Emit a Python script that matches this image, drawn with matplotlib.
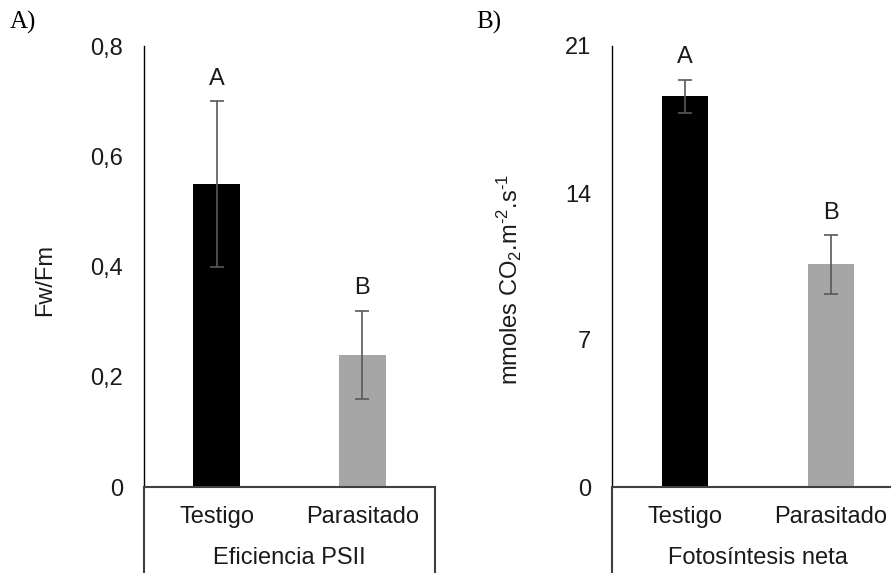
import matplotlib
matplotlib.use("Agg")
import matplotlib.pyplot as plt
from matplotlib import transforms

plt.rcParams['font.family'] = ['Liberation Sans', 'DejaVu Sans']
plt.rcParams['mathtext.fontset'] = 'custom'
plt.rcParams['mathtext.rm'] = 'Liberation Sans'
plt.rcParams['mathtext.it'] = 'Liberation Sans'

categories = ['Testigo', 'Parasitado']
bar_colors = ['#000000', '#a6a6a6']
groups = ['Eficiencia PSII', 'Fotosíntesis neta']

# panel A: PSII efficiency
fvfm_mean = [0.55, 0.24]
fvfm_err = [0.15, 0.08]
fvfm_letters = ['A', 'B']
fvfm_ticks = [0, 0.2, 0.4, 0.6, 0.8]
fvfm_ticklabels = ['0', '0,2', '0,4', '0,6', '0,8']

# panel B: net photosynthesis
fn_mean = [18.6, 10.6]
fn_err = [0.8, 1.4]
fn_letters = ['A', 'B']
fn_ticks = [0, 7, 14, 21]
fn_ticklabels = ['0', '7', '14', '21']

W, H = 891, 573
fig = plt.figure(figsize=(W / 100, H / 100), dpi=100)

txt = '#1a1a1a'
fs = 17


def panel(left_px, width_px, means, errs, letters, ticks, ticklabels,
          ylabel, group, tag, tag_x):
    top_px, bot_px = 46, 487
    ax = fig.add_axes([left_px / W, (H - bot_px) / H, width_px / W,
                       (bot_px - top_px) / H])
    x = [0.5, 1.5]
    ax.bar(x, means, width=0.32, color=bar_colors, zorder=2)
    ax.errorbar(x, means, yerr=errs, fmt='none', ecolor='#595959',
                elinewidth=1.2, capsize=5, capthick=1.2, zorder=3)
    for xi, m, e, lab in zip(x, means, errs, letters):
        ax.annotate(lab, (xi, m + e), xytext=(0, 16), textcoords='offset points',
                    ha='center', va='center', fontsize=fs, color=txt)
    ax.set_xlim(0, 2)
    ax.set_ylim(ticks[0], ticks[-1])
    ax.set_yticks(ticks)
    ax.set_yticklabels(ticklabels, fontsize=fs, color=txt)
    ax.tick_params(axis='y', length=0, pad=15)
    ax.set_xticks([])
    for s in ['top', 'right']:
        ax.spines[s].set_visible(False)
    ax.spines['left'].set_color('#000000')
    ax.spines['left'].set_linewidth(1.0)
    ax.spines['bottom'].set_color('#404040')
    ax.spines['bottom'].set_linewidth(1.5)

    # category box under the axis
    ax.plot([0, 0], [0, -0.3], transform=ax.transAxes, color='#404040',
            lw=1.5, clip_on=False)
    ax.plot([1, 1], [0, -0.3], transform=ax.transAxes, color='#404040',
            lw=1.5, clip_on=False)
    tr = transforms.blended_transform_factory(ax.transData, ax.transAxes)
    for xi, c in zip(x, categories):
        ax.text(xi, -30 / 441, c, transform=tr, ha='center', va='center',
                fontsize=fs, color=txt)
    ax.text(1.0, -71 / 441, group, transform=tr, ha='center', va='center',
            fontsize=fs, color=txt)

    ax.set_ylabel(ylabel, fontsize=fs, color=txt)
    ax.yaxis.set_label_coords(-88 / width_px, 0.47)
    fig.text(tag_x / W, 1 - 22 / H, tag, family='Liberation Serif',
             fontsize=18, ha='left', va='center', color='#000000')
    return ax


panel(144, 291, fvfm_mean, fvfm_err, fvfm_letters, fvfm_ticks,
      fvfm_ticklabels, 'Fw/Fm', groups[0], 'A)', 10)
panel(612, 292, fn_mean, fn_err, fn_letters, fn_ticks, fn_ticklabels,
      r'mmoles CO$_2$.m$^{\text{-}2}$.s$^{\text{-}1}$', groups[1], 'B)', 476)

fig.savefig('out.png', dpi=100)
